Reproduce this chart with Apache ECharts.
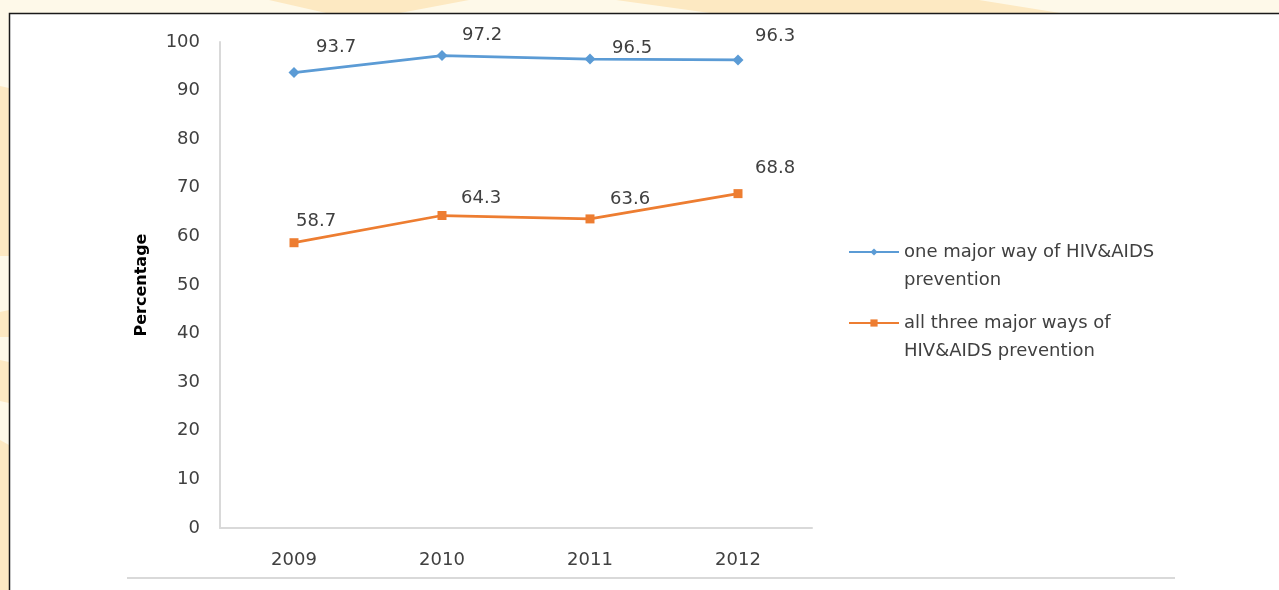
<!DOCTYPE html>
<html>
<head>
<meta charset="utf-8">
<script src="https://cdn.jsdelivr.net/npm/echarts@6/dist/echarts.min.js"></script>
<style>
html,body{margin:0;padding:0;background:#fef9e9;}
#chart{width:1279px;height:590px;}
</style>
</head>
<body>
<div id="chart"></div>
<script>
const categories = ['2009', '2010', '2011', '2012'];
const seriesNames = ['one major way of HIV&AIDS\nprevention', 'all three major ways of\nHIV&AIDS prevention'];
const oneWay = [93.7, 97.2, 96.5, 96.3];
const allThree = [58.7, 64.3, 63.6, 68.8];
const yTicks = { min: 0, max: 100, interval: 10 };

// label placement (pixel offsets from each point), style only
const oneWayLabelOffsets = [[22, -25], [20, -20], [22, -11], [17, -24]];
const allThreeLabelOffsets = [[2, -21], [19, -17], [20, -20], [17, -25]];

const chart = echarts.init(document.getElementById('chart'), null, { renderer: 'canvas' });
const FONT = '"DejaVu Sans", "Noto Sans", sans-serif';
const TXT = '#404040';
const peach = '#fde9c2';

const bgGraphics = [
  { type: 'rect', shape: { x: 0, y: 0, width: 1279, height: 590 }, style: { fill: '#fef9e9' }, silent: true, z: -10 },
  { type: 'polygon', shape: { points: [[269,0],[469,0],[400,13],[326,13]] }, style: { fill: peach }, silent: true, z: -9 },
  { type: 'polygon', shape: { points: [[616,0],[979,0],[1060,13],[710,13]] }, style: { fill: peach }, silent: true, z: -9 },
  { type: 'polygon', shape: { points: [[0,86],[9,88],[9,256],[0,256]] }, style: { fill: peach }, silent: true, z: -9 },
  { type: 'polygon', shape: { points: [[0,312],[9,310],[9,337],[0,337]] }, style: { fill: peach }, silent: true, z: -9 },
  { type: 'polygon', shape: { points: [[0,360],[9,362],[9,403],[0,401]] }, style: { fill: peach }, silent: true, z: -9 },
  { type: 'polygon', shape: { points: [[0,440],[9,445],[9,590],[0,590]] }, style: { fill: peach }, silent: true, z: -9 },
  { type: 'rect', shape: { x: 9.5, y: 13.5, width: 1280, height: 600 }, style: { fill: '#ffffff', stroke: '#1a1a1a', lineWidth: 1.5 }, silent: true, z: -8 },
  { type: 'line', shape: { x1: 127, y1: 578, x2: 1175, y2: 578 }, style: { stroke: '#d9d9d9', lineWidth: 2 }, silent: true, z: -7 }
];

function withLabels(values, offsets, half) {
  return values.map((v, i) => ({
    value: v,
    label: {
      show: true,
      position: [offsets[i][0] + half, offsets[i][1] + half],
      align: 'left',
      verticalAlign: 'middle',
      color: TXT,
      fontFamily: FONT,
      fontSize: 18
    }
  }));
}

function legendCfg(name, top) {
  return {
    orient: 'vertical',
    left: 848,
    top: top,
    padding: 0,
    itemWidth: 50,
    itemHeight: 9,
    itemGap: 0,
    formatter: n => ' \n' + n,
    textStyle: { fontFamily: FONT, fontSize: 18, color: TXT, lineHeight: 28 },
    data: [name]
  };
}

chart.setOption({
  animation: false,
  backgroundColor: 'transparent',
  graphic: bgGraphics,
  grid: { left: 220, right: 467, top: 42, bottom: 62, containLabel: false },
  legend: [legendCfg(seriesNames[0], 210), legendCfg(seriesNames[1], 281)],
  xAxis: {
    type: 'category',
    data: categories,
    boundaryGap: true,
    axisLine: { lineStyle: { color: '#d9d9d9', width: 2 } },
    axisTick: { show: false },
    axisLabel: { color: TXT, fontFamily: FONT, fontSize: 18, margin: 23 },
    splitLine: { show: false }
  },
  yAxis: {
    type: 'value',
    min: yTicks.min,
    max: yTicks.max,
    interval: yTicks.interval,
    name: 'Percentage',
    nameLocation: 'middle',
    nameGap: 70,
    nameRotate: 90,
    nameTextStyle: { color: '#000000', fontFamily: FONT, fontSize: 16, fontWeight: 'bold' },
    axisLine: { show: true, lineStyle: { color: '#d9d9d9', width: 2 } },
    axisTick: { show: false },
    axisLabel: { color: TXT, fontFamily: FONT, fontSize: 18, margin: 20 },
    splitLine: { show: false }
  },
  series: [
    {
      name: seriesNames[0],
      type: 'line',
      data: withLabels(oneWay, oneWayLabelOffsets, 5.5),
      symbol: 'diamond',
      symbolSize: 11,
      color: '#5b9bd5',
      lineStyle: { width: 2.75, color: '#5b9bd5' },
      itemStyle: { color: '#5b9bd5' }
    },
    {
      name: seriesNames[1],
      type: 'line',
      data: withLabels(allThree, allThreeLabelOffsets, 4.5),
      symbol: 'rect',
      symbolSize: 9,
      color: '#ed7d31',
      lineStyle: { width: 2.75, color: '#ed7d31' },
      itemStyle: { color: '#ed7d31' }
    }
  ]
});
</script>
</body>
</html>
